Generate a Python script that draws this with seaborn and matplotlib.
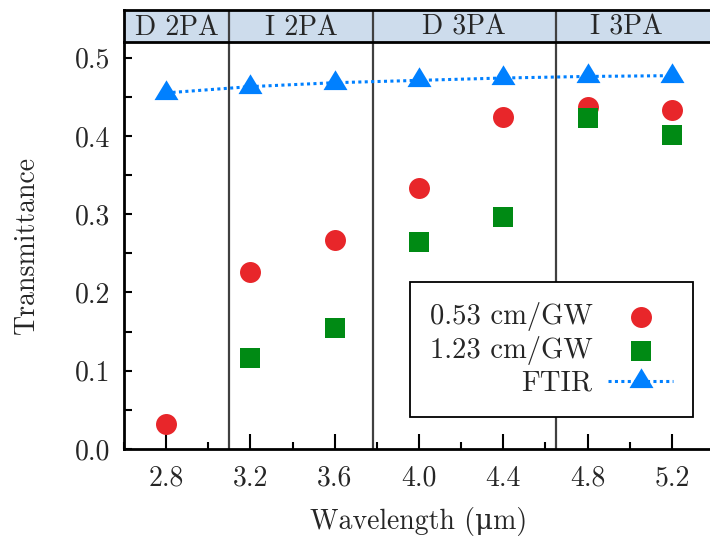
import numpy as np
import pandas as pd
import matplotlib
matplotlib.use("Agg")
import matplotlib.pyplot as plt
from matplotlib.path import Path
from matplotlib.ticker import MultipleLocator
import seaborn as sns

# ---- data ----
wavelength = [2.8, 3.2, 3.6, 4.0, 4.4, 4.8, 5.2]
t_053 = [0.032, 0.226, 0.267, 0.334, 0.424, 0.437, 0.433]
t_123 = [np.nan, 0.116, 0.155, 0.265, 0.297, 0.423, 0.401]
ftir = [0.455, 0.463, 0.468, 0.471, 0.474, 0.476, 0.477]
series_labels = ["0.53 cm/GW", "1.23 cm/GW", "FTIR"]
regions = ["D 2PA", "I 2PA", "D 3PA", "I 3PA"]
region_edges = [2.6, 3.1, 3.78, 4.65, 5.4]
xticks = [2.8, 3.2, 3.6, 4.0, 4.4, 4.8, 5.2]
yticks = [0.0, 0.1, 0.2, 0.3, 0.4, 0.5]

sns.set_theme(style="ticks")
plt.rcParams["font.family"] = ["cmr10", "DejaVu Serif"]
plt.rcParams["mathtext.fontset"] = "cm"
plt.rcParams["axes.formatter.use_mathtext"] = True
plt.rcParams["axes.edgecolor"] = "black"

FS = 20
W, H = 710, 544
fig = plt.figure(figsize=(W / 100, H / 100), dpi=100)
L, R = 124 / W, 714 / W
ax = fig.add_axes([L, 1 - 449 / H, R - L, (449 - 42) / H])
hax = fig.add_axes([L, 1 - 42 / H, R - L, 32 / H])

df = pd.DataFrame({"wavelength": wavelength, "t053": t_053, "t123": t_123, "ftir": ftir})

tri = Path([(-1, -0.55), (1, -0.55), (0, 1.1), (-1, -0.55)],
           [Path.MOVETO, Path.LINETO, Path.LINETO, Path.CLOSEPOLY])

sns.scatterplot(data=df, x="wavelength", y="t053", color="#e8262a", marker="o",
                s=228, linewidth=0, ax=ax, label=series_labels[0], zorder=4)
sns.scatterplot(data=df, x="wavelength", y="t123", color="#008a14", marker="s",
                s=207, linewidth=0, ax=ax, label=series_labels[1], zorder=4)
sns.lineplot(data=df, x="wavelength", y="ftir", color="#0080ff", linestyle=(0, (1, 1.1)),
             lw=2.2, marker=tri, markersize=19, markeredgewidth=0, ax=ax,
             label=series_labels[2], zorder=4)

for e in region_edges[1:-1]:
    ax.axvline(e, color="#404040", lw=1.6, zorder=1)
    hax.axvline(e, color="#404040", lw=1.6, zorder=1)

ax.set_xlim(region_edges[0], region_edges[-1])
ax.set_ylim(0, 0.52)
ax.set_xticks(xticks)
ax.set_xticklabels([f"{v:.1f}" for v in xticks])
ax.set_yticks(yticks)
ax.set_yticklabels([f"{v:.1f}" for v in yticks])
ax.xaxis.set_minor_locator(MultipleLocator(0.2))
ax.yaxis.set_minor_locator(MultipleLocator(0.05))
ax.tick_params(axis="x", which="major", direction="in", length=11, width=1.5,
               labelsize=FS, pad=12, color="black")
ax.tick_params(axis="x", which="minor", direction="in", length=5, width=1.5, color="black")
ax.tick_params(axis="y", which="both", direction="in", length=5.5, width=1.5,
               labelsize=FS, pad=10, color="black")
for s in ["top", "right"]:
    ax.spines[s].set_visible(False)
for s in ["left", "bottom"]:
    ax.spines[s].set_linewidth(2)
ax.set_xlabel("Wavelength (μm)", fontsize=FS, labelpad=11)
ax.set_ylabel("Transmittance", fontsize=FS, labelpad=25)

# header band
hax.set_xlim(region_edges[0], region_edges[-1])
hax.set_ylim(0, 1)
hax.set_facecolor("#cddcec")
hax.set_xticks([])
hax.set_yticks([])
for s in hax.spines.values():
    s.set_linewidth(2)
    s.set_color("black")
for i, name in enumerate(regions):
    cx = (region_edges[i] + region_edges[i + 1]) / 2
    if i == len(regions) - 1:
        cx = (region_edges[i] + 5.32) / 2
    hax.text(cx, 0.45, name, ha="center", va="center", fontsize=FS)

leg = ax.legend(loc="lower right", bbox_to_anchor=(0.964, 0.079), borderaxespad=0,
                markerfirst=False, fontsize=20.6, frameon=True, fancybox=False,
                framealpha=1, edgecolor="black", handlelength=2.25, handletextpad=0.55,
                labelspacing=0.18, borderpad=0.7)
leg.get_frame().set_linewidth(1.3)

fig.savefig("out.png", dpi=100)
